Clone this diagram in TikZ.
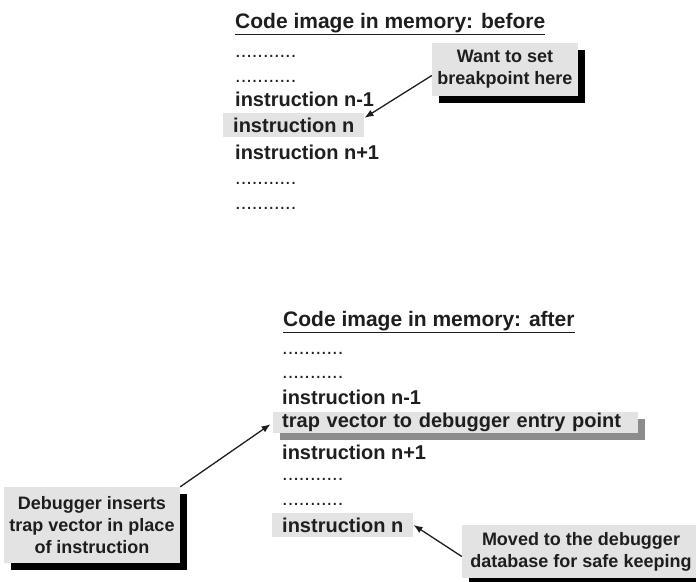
\documentclass[tikz,border=0pt]{standalone}
\usepackage{fontspec}
\setmainfont{Liberation Sans}
\usetikzlibrary{arrows.meta, shadows}
\definecolor{hlgray}{HTML}{E3E3E3}
\definecolor{inkgray}{HTML}{1E1E1E}
\definecolor{shadegray}{HTML}{8C8C8C}
\tikzset{
	codeline/.style={anchor=base west, inner sep=0pt, text=inkgray, font=\fontsize{20}{24}\selectfont\bfseries},
	titleline/.style={codeline, font=\fontsize{21}{24}\selectfont\bfseries},
	dotline/.style={anchor=base west, inner sep=0pt, text=inkgray, font=\fontsize{20}{24}\selectfont},
	hlbox/.style={codeline, anchor=west, fill=hlgray, minimum height=24pt, inner xsep=10pt},
	callout/.style={fill=hlgray, align=center, text=inkgray, inner sep=2pt,
		font=\fontsize{18}{22}\selectfont\bfseries,
		drop shadow={fill=black, opacity=1, shadow xshift=7pt, shadow yshift=-7pt}},
	pointer/.style={-{Latex[length=9pt, width=7pt]}, line width=1.3pt, draw=inkgray}
}

\begin{document}
\begin{tikzpicture}[x=1pt, y=-1pt]
	\useasboundingbox (0,0) rectangle (696,581);
%	before
	\node[titleline] (title-before) at (235,28) {Code image in memory: before};
	\draw[line width=1.5pt, inkgray] ([yshift=-2pt]title-before.south west) -- ([yshift=-2pt]title-before.south east);
	\node[dotline] (dots-b1) at (235,57) {...........};
	\node[dotline] (dots-b2) at (235,82) {...........};
	\node[codeline] (nm1-before) at (235,106) {instruction n-1};
	\node[hlbox] (n-before) at (223,125) {instruction n};
	\node[codeline] (np1-before) at (235,159) {instruction n+1};
	\node[dotline] (dots-b3) at (235,184) {...........};
	\node[dotline] (dots-b4) at (235,209) {...........};
	
	\node[callout, minimum width=146pt, minimum height=53pt] (want) at (505,69.5)
	{Want to set \\ breakpoint here};
	\draw[pointer] ([yshift=-6pt]want.west) -- ([yshift=-5pt]n-before.north east);
	
%	after
	\node[titleline] (title-after) at (283,326) {Code image in memory: after};
	\draw[line width=1.5pt, inkgray] ([yshift=-2pt]title-after.south west) -- ([yshift=-2pt]title-after.south east);
	\node[dotline] (dots-a1) at (282,354) {...........};
	\node[dotline] (dots-a2) at (282,378) {...........};
	\node[codeline] (nm1-after) at (282,404) {instruction n-1};
	\node[hlbox, text width=347pt, align=left, inner xsep=9pt, minimum height=21pt,
	drop shadow={fill=shadegray, opacity=1, shadow xshift=7pt, shadow yshift=-7pt}] (trap) at (273,422.5)
	{trap vector to debugger entry point};
	\node[codeline] (np1-after) at (282,459) {instruction n+1};
	\node[dotline] (dots-a3) at (282,480) {...........};
	\node[dotline] (dots-a4) at (282,505) {...........};
	\node[hlbox] (n-after) at (272,525) {instruction n};
	
	\node[callout, minimum width=176pt, minimum height=76pt] (inserts) at (92,525)
	{Debugger inserts \\ trap vector in place \\ of instruction};
	\draw[pointer, shorten >=3pt] (inserts.north east) -- (trap.west);
	
	\node[callout, minimum width=238pt, minimum height=53pt] (moved) at (581,551.5)
	{Moved to the debugger \\ database for safe keeping};
	\draw[pointer] ([yshift=-5pt]moved.west) -- (n-after.east);
\end{tikzpicture}
\end{document}
